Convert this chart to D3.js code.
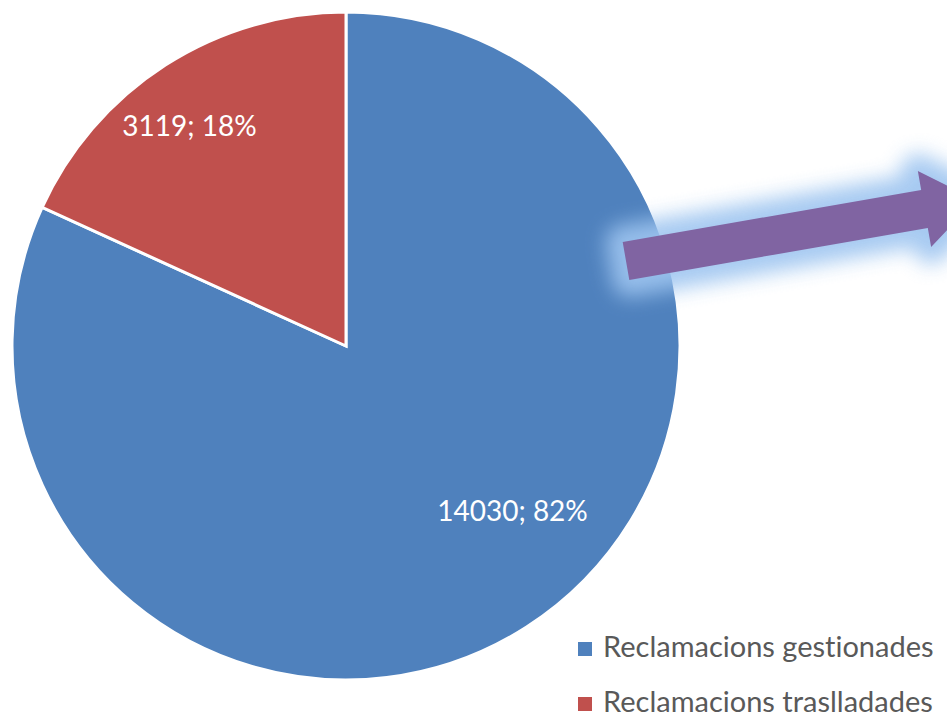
<!DOCTYPE html>
<html>
<head>
<meta charset="utf-8">
<script src="https://cdn.jsdelivr.net/npm/d3@7"></script>
<style>
  body { margin: 0; background: #fff; }
  svg { display: block; }
  text { font-variant-ligatures: none; font-feature-settings: "liga" 0, "dlig" 0; }
</style>
</head>
<body>
<div id="chart"></div>
<script>
// data
var categories = ["Reclamacions gestionades", "Reclamacions traslladades"];
var values = [14030, 3119];
var colors = ["#4f81bd", "#c0504d"];

var width = 947, height = 714;
var cx = 346, cy = 346, radius = 334;

var svg = d3.select("#chart")
    .append("svg")
    .attr("width", width)
    .attr("height", height);

var data = categories.map(function (c, i) {
    return { name: c, value: values[i], color: colors[i] };
});
var total = d3.sum(values);

var pie = d3.pie()
    .sort(null)
    .value(function (d) { return d.value; });

var arc = d3.arc().innerRadius(0).outerRadius(radius);
var labelArc = d3.arc().innerRadius(radius * 0.8).outerRadius(radius * 0.8);
// small nudges so labels sit where the original puts them
var labelNudge = [[22, -50], [-12, 15]];

var g = svg.append("g")
    .attr("transform", `translate(${cx},${cy})`);

var arcs = pie(data);

g.selectAll("path.slice")
    .data(arcs)
    .enter()
    .append("path")
    .attr("class", "slice")
    .attr("d", arc)
    .attr("fill", function (d) { return d.data.color; })
    .attr("stroke", "#fff")
    .attr("stroke-width", 3)
    .attr("stroke-linejoin", "miter");

g.selectAll("text.lbl")
    .data(arcs)
    .enter()
    .append("text")
    .attr("class", "lbl")
    .attr("x", function (d, i) { return labelArc.centroid(d)[0] + labelNudge[i][0]; })
    .attr("y", function (d, i) { return labelArc.centroid(d)[1] + labelNudge[i][1]; })
    .attr("text-anchor", "middle")
    .attr("font-family", "Lato, 'Open Sans', sans-serif")
    .attr("font-size", 28)
    .attr("fill", "#fff")
    .text(function (d) {
        return d.data.value + "; " + Math.round(d.data.value / total * 100) + "%";
    });

// glowing arrow
var defs = svg.append("defs");
defs.append("filter")
    .attr("id", "glow")
    .attr("x", "-30%").attr("y", "-80%")
    .attr("width", "160%").attr("height", "260%")
    .append("feGaussianBlur")
    .attr("stdDeviation", 10);

var ax = 626, ay = 261, angle = -9.9;
var shaftLen = 303, shaftHalf = 19.3, headHalf = 38.6, headLen = 52;
var arrowPts = [
    [0, -shaftHalf], [shaftLen, -shaftHalf], [shaftLen, -headHalf],
    [shaftLen + headLen, 0],
    [shaftLen, headHalf], [shaftLen, shaftHalf], [0, shaftHalf]
];
var arrowG = svg.append("g")
    .attr("transform", `translate(${ax},${ay}) rotate(${angle})`);

arrowG.append("polygon")
    .attr("points", arrowPts.map(function (p) { return p.join(","); }).join(" "))
    .attr("fill", "#9ec5f0")
    .attr("stroke", "#9ec5f0")
    .attr("stroke-width", 34)
    .attr("stroke-linejoin", "round")
    .attr("opacity", 0.9)
    .attr("filter", "url(#glow)");

arrowG.append("polygon")
    .attr("points", arrowPts.map(function (p) { return p.join(","); }).join(" "))
    .attr("fill", "#8064a2");

// legend
var legend = svg.append("g")
    .attr("transform", "translate(578,642)");

var item = legend.selectAll("g.item")
    .data(data)
    .enter()
    .append("g")
    .attr("class", "item")
    .attr("transform", function (d, i) { return `translate(0,${i * 55})`; });

item.append("rect")
    .attr("width", 14)
    .attr("height", 14)
    .attr("fill", function (d) { return d.color; });

item.append("text")
    .attr("x", 25)
    .attr("y", 15)
    .attr("font-family", "Lato, 'Open Sans', sans-serif")
    .attr("font-size", 29)
    .attr("fill", "#595959")
    .text(function (d) { return d.name; });
</script>
</body>
</html>
